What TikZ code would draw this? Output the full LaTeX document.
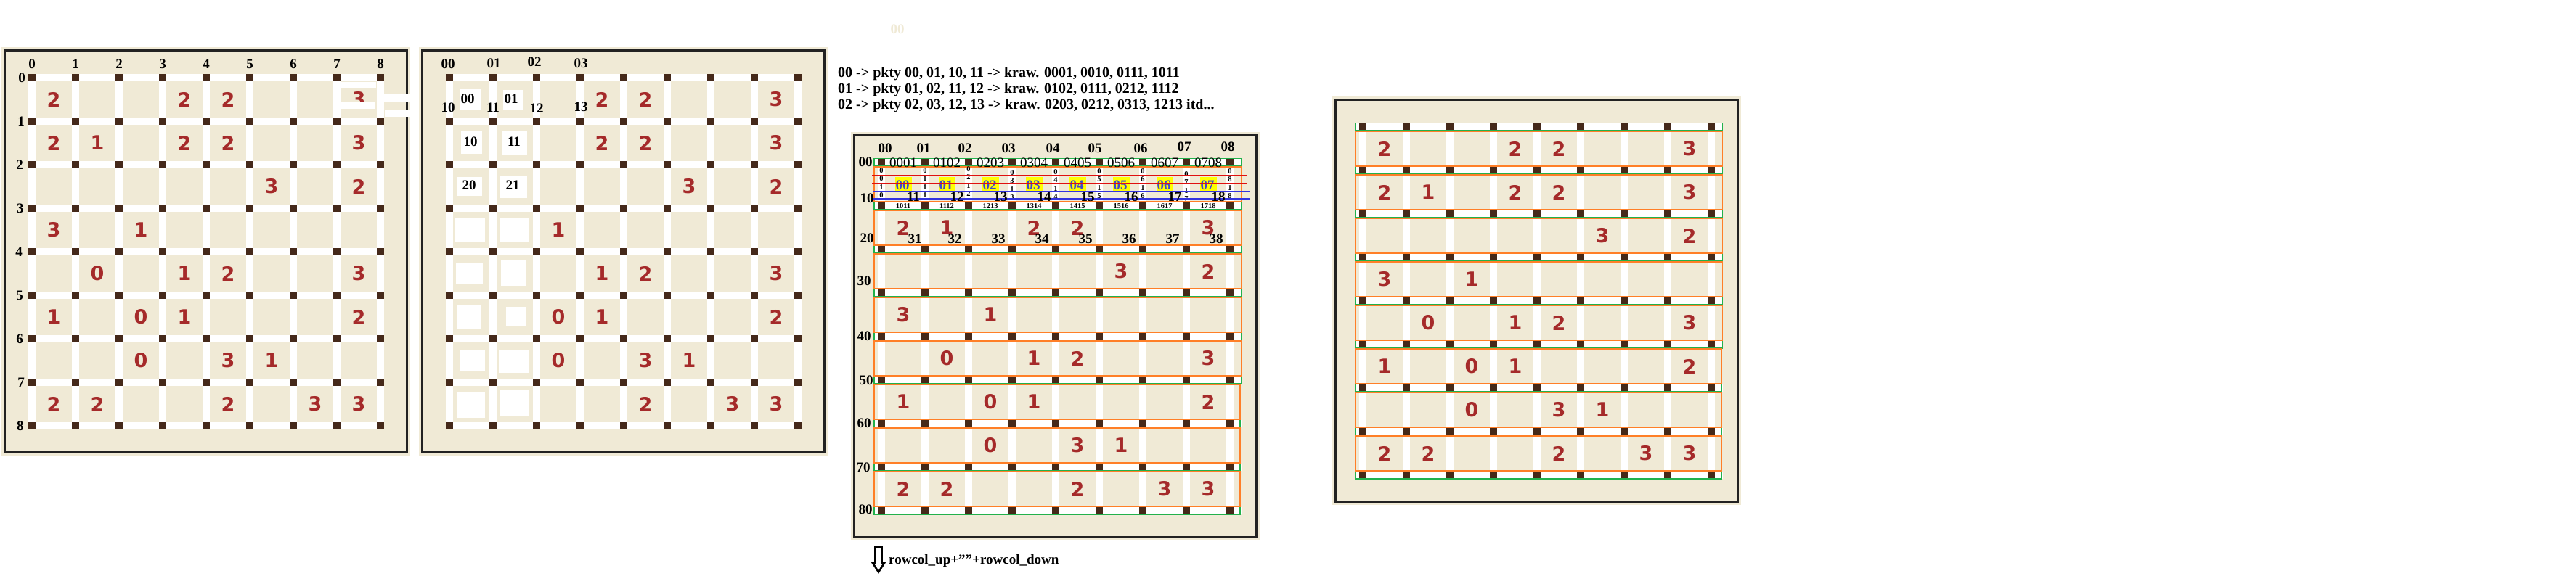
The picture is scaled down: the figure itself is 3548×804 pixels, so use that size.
\documentclass[tikz,border=0pt]{standalone}
\usepackage{fontspec}
\setmainfont{Liberation Serif}
\newfontfamily\cluefont{DejaVu Sans}
\usetikzlibrary{positioning}
\definecolor{boardbg}{HTML}{F0EAD6}
\definecolor{frameink}{HTML}{222222}
\definecolor{dotbrown}{HTML}{45291A}
\definecolor{cluered}{HTML}{A52A2A}
\definecolor{bandgreen}{HTML}{22B14C}
\definecolor{bandorange}{HTML}{FF7F27}
\definecolor{markyellow}{HTML}{FFFF00}
\definecolor{markblue}{HTML}{3F48CC}
\definecolor{guidered}{HTML}{E01010}
\definecolor{guideblue}{HTML}{3333E0}
\tikzset{
  boardfill/.style={fill=boardbg},
  boardframe/.style={draw=frameink, line width=3pt},
  gridway/.style={fill=white},
  gridknot/.style={fill=dotbrown},
  rowband/.style={draw=bandgreen, line width=1.3pt},
  cellband/.style={draw=bandorange, line width=1.3pt},
  clue/.style={inner sep=0pt, text=cluered,
    font=\cluefont\bfseries\fontsize{27pt}{27pt}\selectfont},
  idx/.style={inner sep=0pt, font=\bfseries\fontsize{19pt}{19pt}\selectfont},
  edgeidx/.style={inner sep=0pt, font=\fontsize{19pt}{19pt}\selectfont},
  tinyidx/.style={inner sep=0pt, font=\bfseries\fontsize{10.5pt}{10.5pt}\selectfont},
  markbox/.style={fill=markyellow, inner sep=0pt, minimum width=23pt, minimum height=19pt},
  marklbl/.style={idx, text=markblue},
  guidered/.style={draw=guidered, line width=1.3pt},
  guideblue/.style={draw=guideblue, line width=1.3pt},
  notetext/.style={inner sep=0pt, anchor=base west,
    font=\bfseries\fontsize{20pt}{20pt}\selectfont},
  hidebox/.style={fill=white}
}

% clues: column/row/value
\newcommand{\cluelist}{0/0/2,3/0/2,4/0/2,7/0/3,0/1/2,1/1/1,3/1/2,4/1/2,7/1/3,%
5/2/3,7/2/2,0/3/3,2/3/1,1/4/0,3/4/1,4/4/2,7/4/3,0/5/1,2/5/0,3/5/1,7/5/2,%
2/6/0,4/6/3,5/6/1,0/7/2,1/7/2,4/7/2,6/7/3,7/7/3}

% board frame, origin = top left knot
\newcommand{\boardbox}{%
  \fill[boardfill] (-42,-42) rectangle (521,521);
  \draw[boardframe] (-37.5,-37.5) rectangle (516.5,516.5);}

\newcommand{\knots}{%
  \foreach \i in {0,...,8}
    \foreach \j in {0,...,8}
      \fill[gridknot] (60*\i-5,60*\j-5) rectangle (60*\i+5,60*\j+5);}

\newcommand{\plaingrid}{%
  \foreach \k in {0,...,8}{
    \fill[gridway] (-5,60*\k-5) rectangle (485,60*\k+5);
    \fill[gridway] (60*\k-5,-5) rectangle (60*\k+5,485);}
  \knots}

\newcommand{\bandgrid}{%
  \foreach \k in {0,...,8}{
    \fill[gridway] (60*\k-5,-5) rectangle (60*\k+5,485);
    \fill[gridway] (-10,60*\k-5.5) rectangle (495.5,60*\k+5);}
  \knots
  \foreach \k in {0,...,8}
    \draw[rowband] (-10,60*\k-5.5) rectangle ({495.5-1.5*(\k>5)},60*\k+5);
  \foreach \k in {0,...,7}
    \draw[cellband] (-10,60*\k+6) rectangle ({495.5-1.5*(\k>4)},60*\k+54);}

% #1 board prefix, #2 first row shown, #3 first column shown
\newcommand{\clues}[3]{%
  \foreach \cc/\rr/\vv in \cluelist{
    \ifnum\rr<#2\relax\else\ifnum\cc<#3\relax\else
      \node[clue] (#1-\cc-\rr) at (30+60*\cc,30+60*\rr) {\vv};
    \fi\fi}}

\begin{document}
\begin{tikzpicture}[x=1pt,y=-1pt]
\useasboundingbox (0,0) rectangle (3548,804);
\fill[white] (0,0) rectangle (3548,804);

% board 1
\begin{scope}[shift={(44,107)}]
  \boardbox
  \plaingrid
  \clues{b1}{0}{0}
  \foreach \k in {0,...,8}
    \node[idx] (b1-col\k) at (60*\k,-19) {\k};
  \foreach \k/\dx in {0/-14,1/-15,2/-17,3/-16,4/-18,5/-17,6/-17,7/-15,8/-16}
    \node[idx] (b1-row\k) at (\dx,60*\k) {\k};
  % stray white strokes at the top right
  \fill[white] (419,6) rectangle (474,14);
  \fill[white] (419,6) rectangle (424,43);
  \fill[white] (423,33) rectangle (472,43);
  \fill[white] (485,23) rectangle (528,33);
  \fill[white] (486,44) rectangle (528,54);
\end{scope}

% board 2
\begin{scope}[shift={(619,107)}]
  \boardbox
  \plaingrid
  \clues{b2}{0}{2}
  \foreach \xa/\ya/\xb/\yb in {14/15/44/45,74/17/102/45,16/73/45/105,73/74/107/107,
      10/137/45/163,70/135/107/166,8/193/49/227,69/194/109/226,9/255/46/285,71/251/106/287,
      11/314/43/346,78/316/106/343,15/376/49/405,68/375/110/407,10/434/49/469,70/431/110/467}
    \fill[hidebox] (\xa,\ya) rectangle (\xb,\yb);
  \foreach \lbl/\x/\y in {00/25/29,01/85/29,10/29/88,11/89/88,20/27/148,21/87/148}
    \node[idx] (b2-cell\lbl) at (\x,\y) {\lbl};
  \foreach \lbl/\x/\y in {00/-2/-19,01/61/-20,02/117/-22,03/181/-20,
      10/-2/41,11/60/41,12/120/42,13/181/40}
    \node[idx] (b2-knot\lbl) at (\x,\y) {\lbl};
\end{scope}

% board 3
\begin{scope}[shift={(1214,224)}]
  \boardbox
  \bandgrid
  \clues{b3}{1}{0}
  \foreach \lbl/\x/\y in {00/5/-20,01/58/-20,02/115/-20,03/175/-20,04/236/-20,
      05/294/-20,06/357/-20,07/417/-22,08/477/-22}
    \node[idx] (b3-col\lbl) at (\x,\y) {\lbl};
  \foreach \lbl/\x/\y in {00/-22/-1,10/-20/49,20/-20/104,30/-24/163,40/-24/239,
      50/-21/300,60/-24/359,70/-25/420,80/-22/478}
    \node[idx] (b3-row\lbl) at (\x,\y) {\lbl};
  \foreach \i [evaluate=\i as \j using int(\i+1)] in {0,...,7}
    \node[edgeidx] (b3-h0\i) at (30+60*\i,0) {0\i0\j};
  \foreach \i/\top in {0/11,1/11,2/9,3/14,4/13,5/12,6/12,7/16,8/12}
    \foreach \d [count=\m from 0] in {0,\i,1,\i}
      \node[tinyidx] (b3-v\i-\m) at (60*\i,\top+11.5*\m) {\d};
  \foreach \i in {0,...,7}{
    \node[markbox] (b3-mark\i) at (30.5+60*\i,29.5) {};
    \node[marklbl] (b3-cell\i) at (29+60*\i,31) {0\i};}
  \draw[guidered] (-13,18) -- (503,18);
  \draw[guidered] (-13,29) -- (503,29);
  \draw[guideblue] (-12,40) -- (507,40);
  \draw[guideblue] (-12,50) -- (507,50);
  \foreach \i in {1,...,8}
    \node[idx] (b3-k1\i) at (60*\i-16,47) {1\i};
  \foreach \i [evaluate=\i as \j using int(\i+1)] in {0,...,7}
    \node[tinyidx] (b3-h1\i) at (30+60*\i,60) {1\i1\j};
  \foreach \i/\x in {1/46,2/101,3/161,4/221,5/281,6/341,7/401,8/461}
    \node[idx] (b3-k3\i) at (\x,105) {3\i};
\end{scope}

% board 4
\begin{scope}[shift={(1877,175)}]
  \boardbox
  \bandgrid
  \clues{b4}{0}{0}
\end{scope}

% notes
\node[idx, text=boardbg] (ghost) at (1236,40) {00};
\node[notetext] (note1) at (1154,106) {00 -> pkty 00, 01, 10, 11 -> kraw. 0001, 0010, 0111, 1011};
\node[notetext] (note2) at (1154,128) {01 -> pkty 01, 02, 11, 12 -> kraw. 0102, 0111, 0212, 1112};
\node[notetext] (note3) at (1154,150) {02 -> pkty 02, 03, 12, 13 -> kraw. 0203, 0212, 0313, 1213 itd...};
\draw[line width=2.6pt, fill=white, line join=miter]
  (1205.5,754.5) -- (1214.5,754.5) -- (1214.5,776) -- (1218,776) -- (1210,788.5)
  -- (1202,776) -- (1205.5,776) -- cycle;
\node[notetext, font=\bfseries\fontsize{19pt}{19pt}\selectfont] (rowcol) at (1224,777)
  {rowcol\_up+\symbol{34}\symbol{34}+rowcol\_down};
\end{tikzpicture}
\end{document}
